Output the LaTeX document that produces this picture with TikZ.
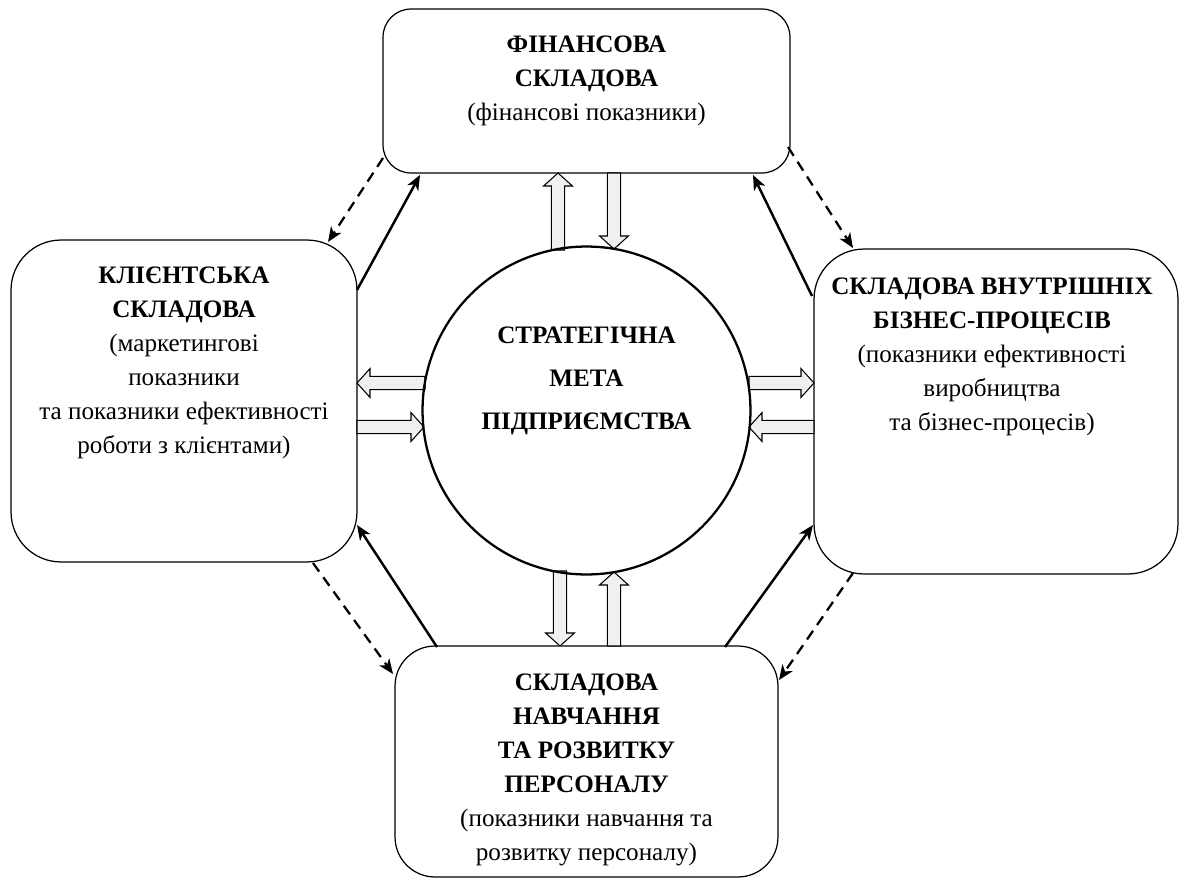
\documentclass[tikz,border=0pt]{standalone}
\usepackage{fontspec}
\setmainfont{Liberation Serif}
\usetikzlibrary{calc,arrows.meta}
\tikzset{
  box/.style={draw, line width=0.7pt, rounded corners=#1, inner sep=0pt, outer sep=0pt},
  txt/.style={align=center, font=\fontsize{14.3}{19.3}\selectfont, inner sep=0pt},
  blk/.style={draw, line width=0.6pt, fill=black!6, line join=miter},
  solidarr/.style={line width=1.4pt, -{Stealth[length=8.5pt,width=7pt,inset=2.5pt]}},
  dasharr/.style={line width=1.3pt, dash pattern=on 6pt off 4pt, -{Stealth[length=8.5pt,width=7pt,inset=2.5pt]}},
}
\newcommand{\blockarrow}[2]{%
  \path ($(#2)!7.4pt!(#1)$) coordinate (bh);
  \draw[blk] ($(#1)!3.8pt!90:(#2)$) -- ($(bh)!3.8pt!90:(#2)$) -- ($(bh)!8.2pt!90:(#2)$)
    -- (#2) -- ($(bh)!8.2pt!-90:(#2)$) -- ($(bh)!3.8pt!-90:(#2)$) -- ($(#1)!3.8pt!-90:(#2)$) -- cycle;
}
\begin{document}
\begin{tikzpicture}[x=0.02cm, y=-0.02cm]
\useasboundingbox (0,0) rectangle (1180,879);

% boxes
\node[box=0.56cm, minimum width=8.14cm, minimum height=3.28cm] (fin) at (586.5,91) {};
\node[box=1cm, minimum width=6.92cm, minimum height=6.44cm] (cli) at (184,401) {};
\node[box=1cm, minimum width=7.28cm, minimum height=6.5cm] (int) at (996,411.5) {};
\node[box=0.8cm, minimum width=7.66cm, minimum height=4.62cm] (edu) at (586.5,761.5) {};

% texts
\node[txt] (fint) at (586.5,81) {\textbf{ФІНАНСОВА}\\\textbf{СКЛАДОВА}\\(фінансові показники)};
\node[txt] (clit) at (184,363) {\textbf{КЛІЄНТСЬКА}\\\textbf{СКЛАДОВА}\\(маркетингові\\показники\\та показники ефективності\\роботи з клієнтами)};
\node[txt] (intt) at (992,357) {\textbf{СКЛАДОВА ВНУТРІШНІХ}\\\textbf{БІЗНЕС-ПРОЦЕСІВ}\\(показники ефективності\\виробництва\\та бізнес-процесів)};
\node[txt] (edut) at (586.5,770) {\textbf{СКЛАДОВА}\\\textbf{НАВЧАННЯ}\\\textbf{ТА РОЗВИТКУ}\\\textbf{ПЕРСОНАЛУ}\\(показники навчання та\\розвитку персоналу)};

% block arrow end points
\coordinate (t1a) at (558,250); \coordinate (t1b) at (558,173);
\coordinate (t2a) at (614,173); \coordinate (t2b) at (614,249);
\coordinate (b1a) at (560,571); \coordinate (b1b) at (560,646);
\coordinate (b2a) at (614,646); \coordinate (b2b) at (614,572);
\coordinate (l1a) at (425,383); \coordinate (l1b) at (357,383);
\coordinate (l2a) at (357,427); \coordinate (l2b) at (424,427);
\coordinate (r1a) at (749,383); \coordinate (r1b) at (814,383);
\coordinate (r2a) at (814,427); \coordinate (r2b) at (749,427);

\blockarrow{t1a}{t1b}
\blockarrow{t2a}{t2b}
\blockarrow{b1a}{b1b}
\blockarrow{b2a}{b2b}
\blockarrow{l1a}{l1b}
\blockarrow{l2a}{l2b}
\blockarrow{r1a}{r1b}
\blockarrow{r2a}{r2b}

% circle
\node[draw, circle, line width=1.3pt, minimum size=6.56cm, inner sep=0pt] (c) at (586.5,410.5) {};
\node[txt, font=\fontsize{14.3}{24.4}\selectfont\bfseries] (ct) at (586.5,381) {СТРАТЕГІЧНА\\МЕТА\\ПІДПРИЄМСТВА};

% thin arrows
\coordinate (s1a) at (357,290); \coordinate (s1b) at (420,175);
\coordinate (d1a) at (383,158); \coordinate (d1b) at (328,242);
\coordinate (s2a) at (812,296); \coordinate (s2b) at (753,175);
\coordinate (d2a) at (788,147); \coordinate (d2b) at (853,248);
\coordinate (s3a) at (437,647); \coordinate (s3b) at (357,525);
\coordinate (d3a) at (313,563); \coordinate (d3b) at (393,674);
\coordinate (s4a) at (725,647); \coordinate (s4b) at (813,525);
\coordinate (d4a) at (853,573); \coordinate (d4b) at (779,680);

\draw[solidarr] (s1a) -- (s1b);
\draw[dasharr] (d1a) -- (d1b);
\draw[solidarr] (s2a) -- (s2b);
\draw[dasharr] (d2a) -- (d2b);
\draw[solidarr] (s3a) -- (s3b);
\draw[dasharr] (d3a) -- (d3b);
\draw[solidarr] (s4a) -- (s4b);
\draw[dasharr] (d4a) -- (d4b);
\end{tikzpicture}
\end{document}
